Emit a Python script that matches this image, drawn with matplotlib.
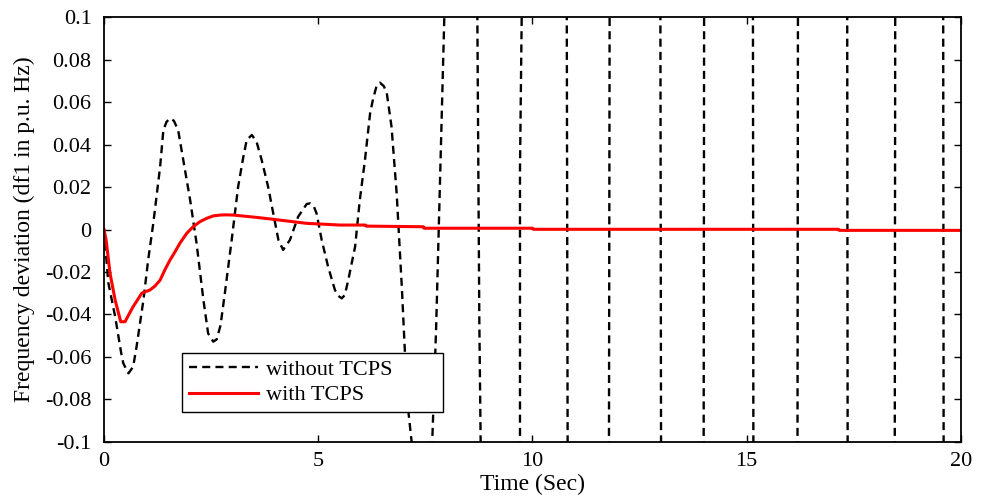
"""
Frequency deviation with and without TCPS (recreated chart)
"""

### Import modules
import matplotlib
matplotlib.use('Agg')
import matplotlib.pyplot as plt

### Data  (time in s, df1 in p.u. Hz)
### values of +-0.2 stand for "off the scale" between crossings
t_without = [0.0, 0.1, 0.26, 0.4, 0.45, 0.57, 0.68, 0.76, 0.92, 1.03, 1.15, 1.31,
             1.385, 1.46, 1.54, 1.63, 1.73, 1.85, 2.01, 2.16, 2.32, 2.43, 2.55,
             2.63, 2.72, 2.82, 2.98, 3.13, 3.25, 3.33, 3.45, 3.56, 3.68, 3.83,
             3.95, 4.07, 4.18, 4.34, 4.53, 4.73, 4.81, 4.90, 4.96, 5.08, 5.23,
             5.39, 5.47, 5.55, 5.62, 5.70, 5.86, 5.97, 6.09, 6.21, 6.28, 6.36,
             6.44, 6.53, 6.60, 6.71, 6.83, 6.95, 7.02, 7.10, 7.18, 7.30, 7.55,
             7.66, 7.75, 7.865, 7.942, 8.1,
             8.60, 8.713, 8.759, 8.79, 8.9,
             9.60, 9.708, 9.708, 9.748, 9.85,
             10.70, 10.80, 10.82, 10.95,
             11.70, 11.785, 11.80, 11.90,
             12.90, 12.985, 13.00, 13.10,
             13.90, 13.995, 14.005, 14.10,
             15.05, 15.145, 15.155, 15.25,
             16.10, 16.185, 16.195, 16.30,
             17.25, 17.345, 17.355, 17.45,
             18.35, 18.455, 18.465, 18.55,
             19.50, 19.585, 19.595, 19.70, 20.0]
df_without = [0.0, -0.025, -0.041, -0.058, -0.063, -0.0677, -0.0646, -0.0551,
              -0.0332, -0.0144, 0.0029, 0.0296, 0.0468, 0.0507, 0.0523, 0.0512,
              0.0468, 0.0327, 0.0139, -0.0065, -0.0332, -0.0489, -0.0528,
              -0.0517, -0.045, -0.030, -0.0049, 0.0201, 0.034, 0.0421, 0.0445,
              0.0413, 0.0327, 0.0201, 0.0076, -0.0049, -0.0096, -0.0049, 0.006,
              0.012, 0.0123, 0.0107, 0.0076, -0.0049, -0.0175, -0.0285, -0.0313,
              -0.0324, -0.0308, -0.0238, -0.0081, 0.0139, 0.0327, 0.0547, 0.0615,
              0.0675, 0.0691, 0.0675, 0.0641, 0.0484, 0.017, -0.0269, -0.0567,
              -0.085, -0.1, -0.2, -0.2,
              -0.1, -0.047, 0.0406, 0.1, 0.2,
              0.2, 0.1, -0.0426, -0.1, -0.2,
              -0.2, -0.1, 0.028, 0.1, 0.2,
              0.2, 0.1, -0.1, -0.2,
              -0.2, -0.1, 0.1, 0.2,
              0.2, 0.1, -0.1, -0.2,
              -0.2, -0.1, 0.1, 0.2,
              0.2, 0.1, -0.1, -0.2,
              -0.2, -0.1, 0.1, 0.2,
              0.2, 0.1, -0.1, -0.2,
              -0.2, -0.1, 0.1, 0.2,
              0.2, 0.1, -0.1, -0.2, -0.2]

t_with = [0.0, 0.05, 0.14, 0.26, 0.39, 0.49, 0.58, 0.68, 0.78, 0.88, 0.96, 1.07,
          1.19, 1.31, 1.42, 1.54, 1.66, 1.77, 1.93, 2.08, 2.24, 2.40, 2.55,
          2.71, 2.85, 3.02, 3.56, 3.95, 4.73, 5.51, 6.10, 6.12,
          7.45, 7.47, 10.0, 10.02, 17.14, 17.16, 20.0]
df_with = [0.0, -0.005, -0.0206, -0.0332, -0.0434, -0.0434, -0.040, -0.0363,
           -0.0332, -0.030, -0.0293, -0.0285, -0.0266, -0.0238, -0.019, -0.0144,
           -0.0104, -0.0065, -0.0018, 0.0013, 0.0037, 0.0053, 0.0064, 0.0068,
           0.0069, 0.0068, 0.0057, 0.0048, 0.0029, 0.0021, 0.0021, 0.0016,
           0.0013, 0.0006, 0.0006, 0.0001, 0.0001, -0.0004, -0.0004]

xticks = [0, 5, 10, 15, 20]
yticks = [0.1, 0.08, 0.06, 0.04, 0.02, 0, -0.02, -0.04, -0.06, -0.08, -0.1]
yticklabels = ['0.1', '0.08', '0.06', '0.04', '0.02', '0',
               '-0.02', '-0.04', '-0.06', '-0.08', '-0.1']
labels = ['without TCPS', 'with TCPS']

### Define parameters
plt.rc('font', family='Liberation Serif', size=16)
plt.rc('axes', linewidth=1.3)

### Create plot
fig = plt.figure(figsize=(9.84, 5.01), dpi=100)
ax = fig.add_axes([0.1057, 0.1178, 0.8709, 0.8482])

### Plot lines
ax.plot(t_without, df_without, color='k', linewidth=1.7, dashes=(3.4, 2.2),
        label=labels[0])
ax.plot(t_with, df_with, color='red', linewidth=2.2, label=labels[1])

### Set x/y limits and ticks
ax.set_xlim([0, 20])
ax.set_ylim([-0.1, 0.1])
ax.set_xticks(xticks)
ax.set_xticklabels([str(x) for x in xticks])
ax.set_yticks(yticks)
ax.set_yticklabels(yticklabels)
ax.tick_params('both', direction='in', length=5, width=1, top=True, right=True)
ax.tick_params('x', pad=7)
ax.tick_params('y', pad=9)

ax.set_xlabel('Time (Sec)', fontsize=17, labelpad=2)
ax.set_ylabel('Frequency deviation (df1 in p.u. Hz)', fontsize=17, labelpad=7)

### Legend box
leg = ax.legend(loc='lower left', bbox_to_anchor=(0.091, 0.0706, 0.305, 0.132),
                mode='expand', borderaxespad=0, fancybox=False, framealpha=1,
                edgecolor='k', handlelength=3.1, handletextpad=0.4,
                labelspacing=0.22, borderpad=0.3, fontsize=16)
leg.get_frame().set_linewidth(1.0)

### Save figure
plt.savefig('out.png', dpi=100)
